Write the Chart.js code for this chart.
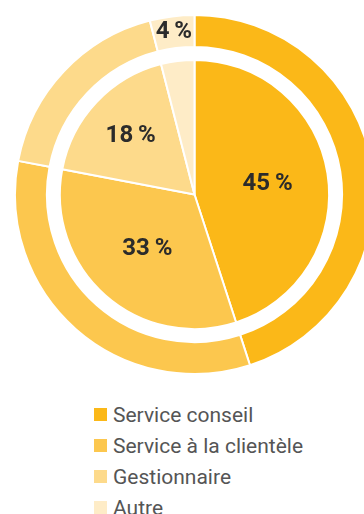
<!DOCTYPE html>
<html>
<head>
<meta charset="utf-8">
<script src="https://cdn.jsdelivr.net/npm/chart.js@4/dist/chart.umd.min.js"></script>
<style>
  html, body { margin: 0; padding: 0; width: 364px; height: 514px; overflow: hidden; background: #fff; }
  #wrap { position: absolute; left: 14px; top: 14px; width: 361px; height: 361px; }
  #legend { position: absolute; left: 94px; top: 399px; font-family: Roboto, sans-serif; font-size: 21px; color: #555; }
  #legend .row { display: flex; align-items: center; height: 31px; }
  #legend .box { width: 13px; height: 13px; margin-right: 6px; flex: none; }
</style>
</head>
<body>
<div id="wrap"><canvas id="mixChart"></canvas></div>
<div id="legend"></div>
<script>
// parts of the work, same split on both rings
const categories = ['Service conseil', 'Service à la clientèle', 'Gestionnaire', 'Autre'];
const outerValues = [45, 33, 18, 4];
const innerValues = [45, 33, 18, 4];
const sliceColors = ['#FBB818', '#FCC74E', '#FDDA8B', '#FEECC7'];

// draws the "45 %" labels on the slices
const sliceLabels = {
  id: 'sliceLabels',
  afterDatasetsDraw(chart) {
    const ctx = chart.ctx;
    ctx.save();
    ctx.font = 'bold 24px Roboto, sans-serif';
    ctx.fillStyle = '#2b2b2b';
    ctx.textAlign = 'center';
    ctx.textBaseline = 'middle';

    const put = (arc, value, r) => {
      const mid = (arc.startAngle + arc.endAngle) / 2;
      ctx.fillText(value + '\u2009%', arc.x + Math.cos(mid) * r, arc.y + Math.sin(mid) * r + 1);
    };

    // outer ring: only the small slice is labelled there
    const outer = chart.getDatasetMeta(0).data;
    const a = outer[3];
    put(a, outerValues[3], (a.innerRadius + a.outerRadius) / 2 + 1);

    // inner pie
    const inner = chart.getDatasetMeta(2).data;
    const factors = [0.55, 0.53, 0.65];
    factors.forEach((f, i) => put(inner[i], innerValues[i], inner[i].outerRadius * f));
    ctx.restore();
  }
};

new Chart(document.getElementById('mixChart'), {
  type: 'doughnut',
  data: {
    labels: categories,
    datasets: [
      {
        data: outerValues,
        backgroundColor: sliceColors,
        borderColor: '#fff',
        borderWidth: 2,
        weight: 32
      },
      {
        // white gap between the ring and the pie
        data: [1],
        backgroundColor: 'rgba(0,0,0,0)',
        borderWidth: 0,
        weight: 13
      },
      {
        data: innerValues,
        backgroundColor: sliceColors,
        borderColor: '#fff',
        borderWidth: 2,
        weight: 135
      }
    ]
  },
  options: {
    responsive: true,
    maintainAspectRatio: false,
    animation: false,
    cutout: 0,
    plugins: {
      legend: { display: false },
      tooltip: { enabled: false }
    }
  },
  plugins: [sliceLabels]
});

const legend = document.getElementById('legend');
categories.forEach((name, i) => {
  const row = document.createElement('div');
  row.className = 'row';
  row.innerHTML = '<span class="box" style="background:' + sliceColors[i] + '"></span><span>' + name + '</span>';
  legend.appendChild(row);
});
</script>
</body>
</html>
